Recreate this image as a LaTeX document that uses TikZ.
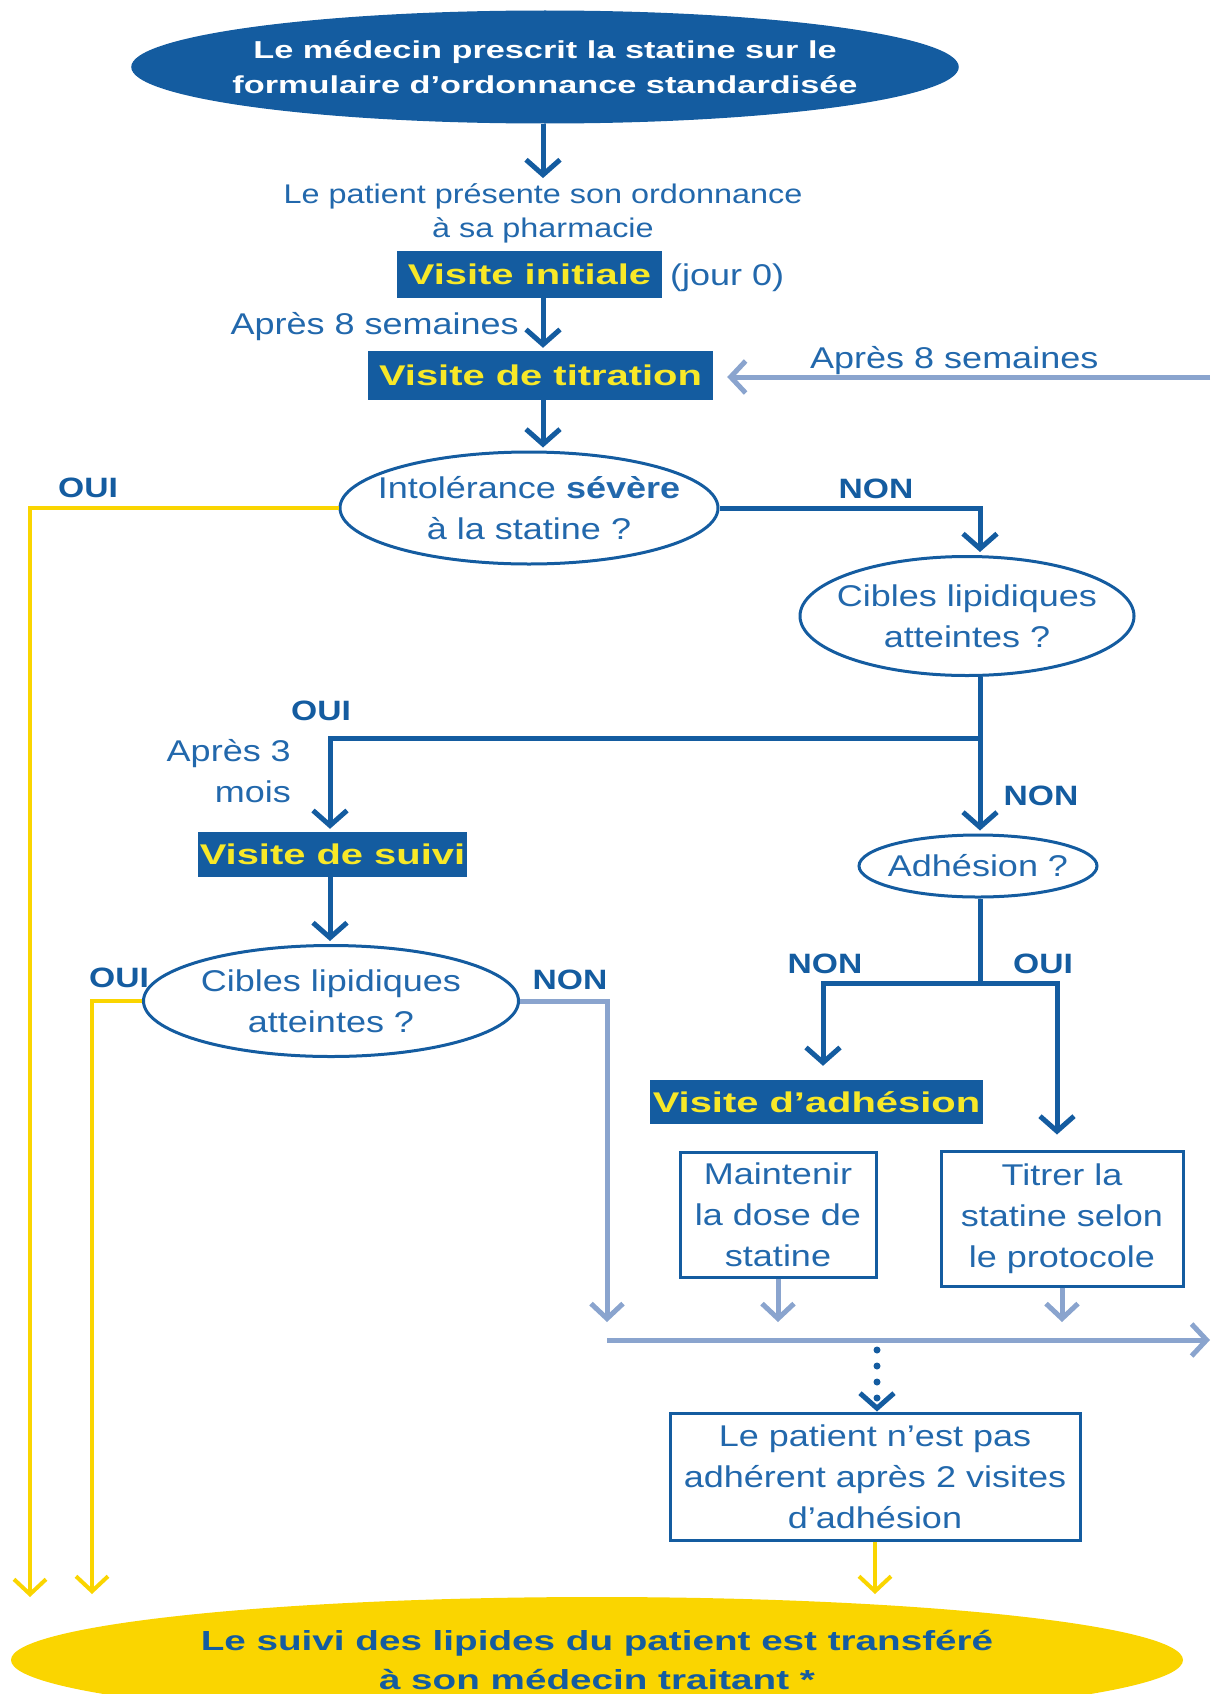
\documentclass[tikz,border=0pt]{standalone}
\usepackage{fontspec}
\setmainfont{Liberation Sans}[FakeStretch=1.2]
\newfontfamily\heavyfont{Liberation Sans}[FakeStretch=1.4]
\usetikzlibrary{shapes.geometric,arrows.meta}

\definecolor{ordblue}{RGB}{20,92,160}
\definecolor{txtblue}{RGB}{34,104,172}
\definecolor{lightblue}{RGB}{138,164,206}
\definecolor{suiviyellow}{RGB}{250,213,0}
\definecolor{titleyellow}{RGB}{248,232,40}

\tikzset{
    note/.style={text=txtblue, inner sep=2pt, align=center, font=\fontsize{30}{41}\selectfont},
    answer/.style={text=ordblue, inner sep=0pt, font=\bfseries\fontsize{28}{34}\selectfont},
    question/.style={ellipse, draw=ordblue, line width=3pt, text=txtblue, inner xsep=-25pt, inner ysep=0pt, align=center, font=\fontsize{30}{41}\selectfont},
    bluebox/.style={draw=ordblue, line width=3pt, text=txtblue, inner sep=0pt, align=center, font=\fontsize{30}{41}\selectfont},
    visit/.style={fill=ordblue, text=titleyellow, inner sep=0pt, font=\heavyfont\bfseries\fontsize{28.5}{34}\selectfont},
    conn/.style={draw=ordblue, line width=5pt},
    arr/.style={conn, -{Straight Barb[length=15pt,width=34pt]}, shorten >=3pt},
    yarr/.style={draw=suiviyellow, line width=4pt, -{Straight Barb[length=15pt,width=32pt]}},
    larr/.style={draw=lightblue, line width=5pt, -{Straight Barb[length=15pt,width=32pt]}},
    dotarr/.style={draw=ordblue, line width=7pt, line cap=round, dash pattern=on 0pt off 16pt, -{Straight Barb[length=15pt,width=34pt,line width=5pt]}}
}

\begin{document}
\begin{tikzpicture}[x=1pt,y=-1pt]
    \clip (0,0) rectangle (1210,1694);

    %%%%%%%%% Colonnes %%%%%%%%%
    \coordinate (mid) at (543,0);
    \coordinate (lcol) at (330,0);
    \coordinate (rcol) at (980,0);
    \coordinate (ncol) at (823,0);
    \coordinate (ocol) at (1057,0);
    \coordinate (ltip) at (0,1322);

    %%%%%%%%% Haut %%%%%%%%%
    \node[ellipse, fill=ordblue, text=white, inner xsep=-20pt, inner ysep=0pt, minimum width=810pt, minimum height=113pt, align=center,
          font=\heavyfont\bfseries\fontsize{24.5}{35}\selectfont] (start) at (545,67)
          {Le médecin prescrit la statine sur le\\formulaire d’ordonnance standardisée};
    \node[note, font=\fontsize{27}{34}\selectfont] (pharma) at (543,213) {Le patient présente son ordonnance\\à sa pharmacie};
    \node[visit, minimum width=265pt, minimum height=47pt] (initiale) at (529.5,274.5) {Visite initiale};
    \node[note, anchor=west] (jour) at (668,278) {(jour 0)};
    \node[note, anchor=east] (apres1) at (521,327) {Après 8 semaines};
    \node[visit, minimum width=345pt, minimum height=49pt] (titration) at (540.5,375.5) {Visite de titration};
    \node[note, anchor=west] (apres2) at (808,361) {Après 8 semaines};

    %%%%%%%%% Intolerance %%%%%%%%%
    \node[question, minimum width=378pt, minimum height=112pt] (intol) at (529,508) {Intolérance \textbf{sévère}\\à la statine ?};
    \node[answer] (oui1) at (88,488) {OUI};
    \node[answer] (non1) at (876,489) {NON};
    \node[question, minimum width=334pt, minimum height=119pt] (cibles1) at (967,616) {Cibles lipidiques\\atteintes ?};

    %%%%%%%%% Suivi %%%%%%%%%
    \node[answer] (oui2) at (321,711) {OUI};
    \node[note, align=right, anchor=east] (apres3) at (293,771) {Après 3\\mois};
    \node[visit, minimum width=269pt, minimum height=45pt] (suivi) at (332.5,854.5) {Visite de suivi};
    \node[question, minimum width=375pt, minimum height=111pt] (cibles2) at (331,1001) {Cibles lipidiques\\atteintes ?};
    \node[answer] (oui3) at (119,978) {OUI};
    \node[answer] (non3) at (570,980) {NON};

    %%%%%%%%% Adhesion %%%%%%%%%
    \node[answer] (non2) at (1041,796) {NON};
    \node[question, minimum width=238pt, minimum height=62pt] (adh) at (978,866) {Adhésion ?};
    \node[answer] (non4) at (825,964) {NON};
    \node[answer] (oui4) at (1043,964) {OUI};
    \node[visit, minimum width=333pt, minimum height=44pt] (adhvisit) at (816.5,1102) {Visite d’adhésion};
    \node[bluebox, minimum width=196pt, minimum height=125pt] (maint) at (778,1214.5) {Maintenir\\la dose de\\statine};
    \node[bluebox, minimum width=242pt, minimum height=135pt] (titrer) at (1062,1218.5) {Titrer la\\statine selon\\le protocole};
    \node[bluebox, minimum width=410pt, minimum height=127pt] (nonadh) at (875,1476.5) {Le patient n’est pas\\adhérent après 2 visites\\d’adhésion};

    %%%%%%%%% Fin %%%%%%%%%
    \node[ellipse, fill=suiviyellow, text=ordblue, inner sep=0pt, minimum width=1172pt, minimum height=126pt, align=center,
          font=\heavyfont\bfseries\fontsize{27.6}{39}\selectfont] (fin) at (597,1660)
          {Le suivi des lipides du patient est transféré\\à son médecin traitant *};

    %%%%%%%%% Fleches %%%%%%%%%
    \draw[arr] (start.south -| mid) -- (pharma.north -| mid);
    \draw[arr] (initiale.south -| mid) -- (titration.north -| mid);
    \draw[arr] (titration.south -| mid) -- (intol.north -| mid);
    \draw[arr] (intol.east) -| (cibles1.north -| rcol);
    \draw[arr] (cibles1.south -| rcol) -- (adh.north -| rcol);
    \draw[arr] (rcol |- oui2.south) ++(0,17) coordinate (br1) -| (suivi.north -| lcol);
    \draw[arr] (suivi.south -| lcol) -- (cibles2.north -| lcol);
    \draw[conn] (adh.south -| rcol) -- (rcol |- 0,983) coordinate (br2);
    \draw[arr, shorten >=14pt] (br2) -| (adhvisit.north -| ncol);
    \draw[arr, shorten >=15pt] (br2) -| (titrer.north -| ocol);

    %%%%%%%%% Jaune %%%%%%%%%
    \draw[yarr] (intol.west) -| (30,1597) coordinate (yend1);
    \draw[yarr] (cibles2.west) -| (92,1594) coordinate (yend2);
    \draw[yarr] (nonadh.south) -- (nonadh.south |- yend2);

    %%%%%%%%% Bleu clair %%%%%%%%%
    \draw[larr] (1210,377) coordinate (lin) -- (titration.east |- lin) [shorten >=14pt];
    \draw[larr] (cibles2.east) -| (607,1322);
    \draw[larr] (maint.south) -- (maint.south |- ltip);
    \draw[larr] (titrer.south) -- (titrer.south |- ltip);
    \draw[larr] (607,1340) coordinate (lbar) -- (1210,1340);
    \draw[dotarr] (877,1350) -- (nonadh.north -| 877,0);
\end{tikzpicture}
\end{document}
